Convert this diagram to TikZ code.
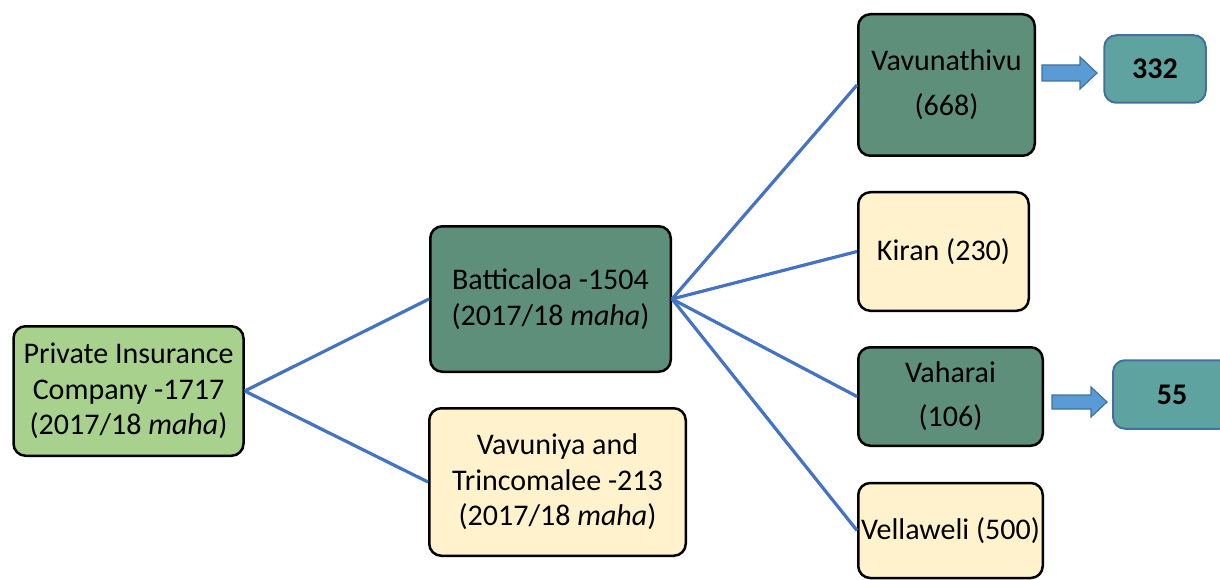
\documentclass[tikz,border=0pt]{standalone}
\usepackage{fontspec}
\setmainfont{Carlito}
\definecolor{leafgreen}{HTML}{A9D18E}
\definecolor{darkgreen}{HTML}{5E8F7A}
\definecolor{cream}{HTML}{FFF2CC}
\definecolor{tealfill}{HTML}{5FA3A1}
\definecolor{edgeblue}{HTML}{41719C}
\definecolor{arrowblue}{HTML}{5B9BD5}
\definecolor{linkblue}{HTML}{4472C4}
\begin{document}
\begin{tikzpicture}[x=1pt,y=-1pt,
  box/.style={draw=black, line width=2.5pt, rounded corners=12pt, align=center,
    inner sep=0pt, font=\fontsize{30}{35.5}\selectfont},
  result/.style={draw=edgeblue, fill=tealfill, line width=2pt, rounded corners=12pt,
    inner sep=0pt, font=\fontsize{30}{35.5}\selectfont\bfseries},
  link/.style={draw=linkblue, line width=3.2pt},
  fatarrow/.style={draw=edgeblue, fill=arrowblue, line width=1.2pt, line join=miter}
]
\useasboundingbox (0,0) rectangle (1220,580);

% company and regions
\node[box, fill=leafgreen, minimum width=230pt, minimum height=129.5pt] (company) at (128.5,391)
  {Private Insurance\\Company -1717\\(2017/18 \textit{maha})};
\node[box, fill=darkgreen, minimum width=240.5pt, minimum height=145.5pt] (batti) at (550.5,299)
  {Batticaloa -1504\\(2017/18 \textit{maha})};
\node[box, fill=cream, minimum width=256.5pt, minimum height=147.5pt] (vavuniya) at (557.5,482)
  {Vavuniya and\\Trincomalee -213\\(2017/18 \textit{maha})};

% divisions of Batticaloa
\node[box, fill=darkgreen, minimum width=176.5pt, minimum height=141.5pt] (vavuna) at (946.5,85)
  {Vavunathivu\\[9.5pt](668)};
\node[box, fill=cream, minimum width=170.5pt, minimum height=118.5pt] (kiran) at (943.5,251.5)
  {Kiran (230)};
\node[box, fill=darkgreen, minimum width=184.5pt, minimum height=98.5pt] (vaharai) at (950.5,396.5)
  {Vaharai\\[8.5pt](106)};
\node[box, fill=cream, minimum width=184.5pt, minimum height=95pt] (vella) at (950.5,530.5)
  {Vellaweli (500)};

% results
\node[result, minimum width=101.5pt, minimum height=67.5pt] (r332) at (1155,69) {332};
\node[result, minimum width=118pt, minimum height=68.5pt] (r55) at (1172,394.5) {55};

% connectors
\draw[link] (company.east) -- (batti.west);
\draw[link] (company.east) -- (vavuniya.west);
\foreach \d in {vavuna,kiran,vaharai,vella}
  \draw[link] (batti.east) -- (\d.west);

% block arrows towards the results
\coordinate (a1) at (1042,73);
\coordinate (a2) at (1052,402);
\draw[fatarrow, shift={(a1)}] (0,-8) -- (38,-8) -- (38,-16) -- (55,0) -- (38,16) -- (38,8) -- (0,8) -- cycle;
\draw[fatarrow, shift={(a2)}] (0,-7) -- (39,-7) -- (39,-15) -- (55,0) -- (39,15) -- (39,7) -- (0,7) -- cycle;
\end{tikzpicture}
\end{document}
